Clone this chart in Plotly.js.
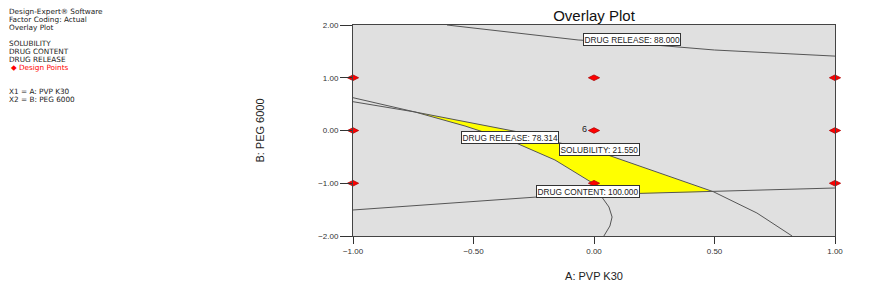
<!DOCTYPE html>
<html>
<head>
<meta charset="utf-8">
<script src="https://cdn.plot.ly/plotly-3.0.1.min.js"></script>
<style>html,body{margin:0;padding:0;background:#fff;}#chart{width:869px;height:290px;}</style>
</head>
<body>
<div id="chart"></div>
<script>
// ---- Data ----
const xTicks = [-1, -0.5, 0, 0.5, 1];
const yTicks = [-2, -1, 0, 1, 2];

// Design points (factorial + centre)
const designX = [-1, 0, 1, -1, 0, 1, -1, 0, 1];
const designY = [1, 1, 1, 0, 0, 0, -1, -1, -1];

// Contour: DRUG RELEASE = 88.000
const release88X = [-0.61, -0.066, 0.149, 0.5, 1.0];
const release88Y = [2.0, 1.716, 1.659, 1.526, 1.41];

// Contour: DRUG RELEASE = 78.314
const release78X = [-1, -0.743, -0.535, -0.336, -0.162, -0.004, 0.025, 0.062, 0.075, 0.066, 0.041];
const release78Y = [0.622, 0.351, 0.085, -0.212, -0.559, -1.001, -1.213, -1.450, -1.640, -1.810, -2.0];

// Contour: SOLUBILITY = 21.550
const solubilityX = [-1, -0.743, -0.307, -0.141, 0.025, 0.274, 0.495, 0.676, 0.822];
const solubilityY = [0.546, 0.351, -0.034, -0.237, -0.413, -0.81, -1.160, -1.564, -2.0];

// Contour: DRUG CONTENT = 100.000
const contentX = [-1, -0.639, -0.237, 0.025, 0.495, 1.0];
const contentY = [-1.507, -1.393, -1.261, -1.213, -1.160, -1.090];

const legendLines = ["Design-Expert\u00ae Software", "Factor Coding: Actual", "Overlay Plot", "",
  "SOLUBILITY", "DRUG CONTENT", "DRUG RELEASE", "\u25c6 Design Points", "", "", "X1 = A: PVP K30", "X2 = B: PEG 6000"];

// ---- Feasible (overlay) region built from the contour arrays ----
const regX = [].concat(solubilityX.slice(1, 7), contentX.slice(3, 5).reverse(), release78X.slice(1, 7).reverse());
const regY = [].concat(solubilityY.slice(1, 7), contentY.slice(3, 5).reverse(), release78Y.slice(1, 7).reverse());

const lineStyle = {color: '#555', width: 1};
const traces = [
  {x: regX, y: regY, mode: 'lines', fill: 'toself', fillcolor: '#ffff00', line: {width: 0, color: 'rgba(0,0,0,0)'}, hoverinfo: 'skip'},
  {x: release88X, y: release88Y, mode: 'lines', line: lineStyle},
  {x: release78X, y: release78Y, mode: 'lines', line: lineStyle},
  {x: solubilityX, y: solubilityY, mode: 'lines', line: lineStyle},
  {x: contentX, y: contentY, mode: 'lines', line: lineStyle},
  {x: designX, y: designY, mode: 'markers', cliponaxis: false,
   marker: {symbol: 'diamond-wide', size: 8, color: '#ff0000', line: {color: '#b00000', width: 0.8}}}
];

const FONT = 'Arial, "Liberation Sans", sans-serif';
const SIDEFONT = '"DejaVu Sans", Arial, sans-serif';
const W = 869, H = 290, L = 353, R = 34, T = 25, B = 54;
const pw = W - L - R, ph = H - T - B;
const px2paperX = p => (p - L) / pw;
const py2paperY = p => (H - B - p) / ph;

const annotations = [];
// contour labels
function cLabel(text, x, y) {
  annotations.push({x: x, y: y, xref: 'x', yref: 'y', text: text, showarrow: false,
    font: {family: FONT, size: 8.3, color: '#222'}, bgcolor: '#ffffff', bordercolor: '#333',
    borderwidth: 1, borderpad: 0.5});
}
cLabel('DRUG RELEASE: 88.000', 0.158, 1.725);
cLabel('DRUG RELEASE: 78.314', -0.349, -0.142);
cLabel('SOLUBILITY: 21.550', 0.021, -0.351);
cLabel('DRUG CONTENT: 100.000', -0.025, -1.156);
// centre-point replicate count
annotations.push({x: 0, y: 0, xref: 'x', yref: 'y', text: '6', showarrow: false, xshift: -10, yshift: 2,
  font: {family: FONT, size: 9, color: '#222'}});
// left info block
legendLines.forEach((t, i) => {
  if (!t) return;
  const red = t.indexOf('Design Points') >= 0;
  annotations.push({xref: 'paper', yref: 'paper', x: px2paperX(red ? 10 : 8), y: py2paperY(11.7 + i * 7.95),
    xanchor: 'left', yanchor: 'middle', showarrow: false, text: t, borderpad: 0,
    font: {family: SIDEFONT, size: 7.3, color: red ? '#ff0000' : '#222'}});
});

const layout = {
  width: W, height: H,
  margin: {l: L, r: R, t: T, b: B, pad: 0},
  paper_bgcolor: '#ffffff', plot_bgcolor: '#e0e0e0',
  showlegend: false,
  title: {text: 'Overlay Plot', x: 0.5, xref: 'paper', y: 1 - 16 / H, yref: 'container', yanchor: 'middle',
    font: {family: FONT, size: 15, color: '#111'}},
  xaxis: {range: [-1, 1], tickvals: xTicks, tickformat: '.2f', ticks: 'outside', ticklen: 7, tickcolor: '#333',
    showline: true, linecolor: '#444', linewidth: 1, mirror: true, showgrid: false, zeroline: false,
    tickfont: {family: FONT, size: 8, color: '#333'},
    title: {text: 'A: PVP K30', font: {family: FONT, size: 11, color: '#222'}, standoff: 17}},
  yaxis: {range: [-2, 2], tickvals: yTicks, tickformat: '.2f', ticks: 'outside', ticklen: 12, tickcolor: '#333',
    showline: true, linecolor: '#444', linewidth: 1, mirror: true, showgrid: false, zeroline: false,
    tickfont: {family: FONT, size: 8, color: '#333'},
    title: {text: 'B: PEG 6000', font: {family: FONT, size: 11, color: '#222'}, standoff: 51}},
  annotations: annotations
};

Plotly.newPlot('chart', traces, layout, {displayModeBar: false, staticPlot: true});
</script>
</body>
</html>
